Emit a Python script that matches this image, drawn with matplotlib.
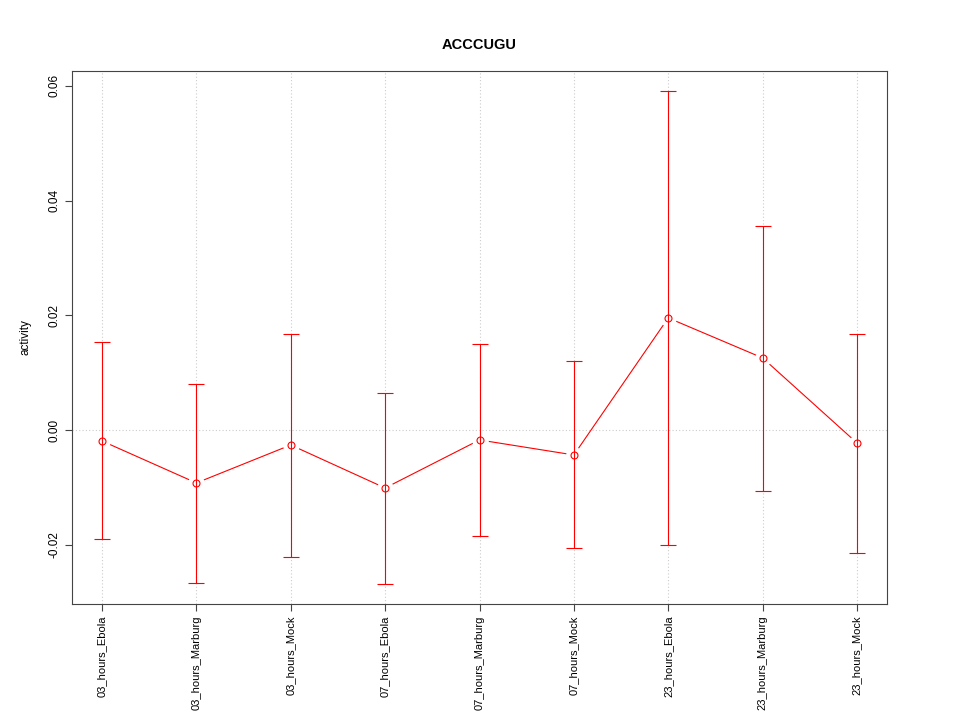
import matplotlib
matplotlib.use('Agg')
import matplotlib.pyplot as plt
import numpy as np

# values
groups = ['03_hours_Ebola', '03_hours_Marburg', '03_hours_Mock',
          '07_hours_Ebola', '07_hours_Marburg', '07_hours_Mock',
          '23_hours_Ebola', '23_hours_Marburg', '23_hours_Mock']
activity = [-0.00192, -0.00924, -0.00262, -0.01012, -0.00174, -0.00436, 0.01954, 0.01256, -0.00227]
upper = [0.01535, 0.00802, 0.01675, 0.00645, 0.01500, 0.01204, 0.05913, 0.03558, 0.01675]
lower = [-0.01900, -0.02669, -0.02215, -0.02686, -0.01849, -0.02058, -0.02006, -0.01064, -0.02145]
yticks = [-0.02, 0.00, 0.02, 0.04, 0.06]

plt.rcParams['font.family'] = ['Liberation Sans', 'DejaVu Sans']

x = np.arange(1, len(groups) + 1)
act = np.array(activity)
err = [act - np.array(lower), np.array(upper) - act]

fig = plt.figure(figsize=(9.6, 7.2), dpi=100)
ax = fig.add_axes([72/960, 1 - 604/720, (887-72)/960, (604-71)/720])

#grid like R's grid()
for xi in x:
    ax.axvline(xi, color='#cccccc', linestyle=(0, (1, 2)), linewidth=0.8, zorder=0)
ax.axhline(0, color='#cccccc', linestyle=(0, (1, 2)), linewidth=0.8, zorder=0)

# type="b" line with gaps around the points
ax.plot(x, act, color='red', linewidth=0.8, zorder=1)
ax.plot(x, act, 'o', markersize=11, color='white', markeredgecolor='white', zorder=2)
ax.errorbar(x, act, yerr=err, fmt='none', ecolor='red', elinewidth=0.8,
            capsize=5.6, capthick=0.8, zorder=3)
ax.plot(x, act, 'o', markersize=5, markerfacecolor='none', markeredgecolor='red',
        markeredgewidth=0.8, zorder=4)

ax.set_xlim(0.682, 9.318)
ax.set_ylim(-0.03035, 0.0626)
ax.set_xticks(x)
ax.set_xticklabels(groups, rotation=90, fontsize=8)
ax.set_yticks(yticks)
ax.set_yticklabels(['%.2f' % v for v in yticks], rotation=90, va='center', fontsize=8.5)
ax.tick_params(direction='out', length=5, width=0.8, color='#444444')
for s in ax.spines.values():
    s.set_color('#444444')
    s.set_linewidth(0.8)

ax.set_ylabel('activity', fontsize=8.5, labelpad=12)
ax.set_title('ACCCUGU', fontsize=10.5, fontweight='bold', pad=16)

fig.savefig('out.png', dpi=100)
